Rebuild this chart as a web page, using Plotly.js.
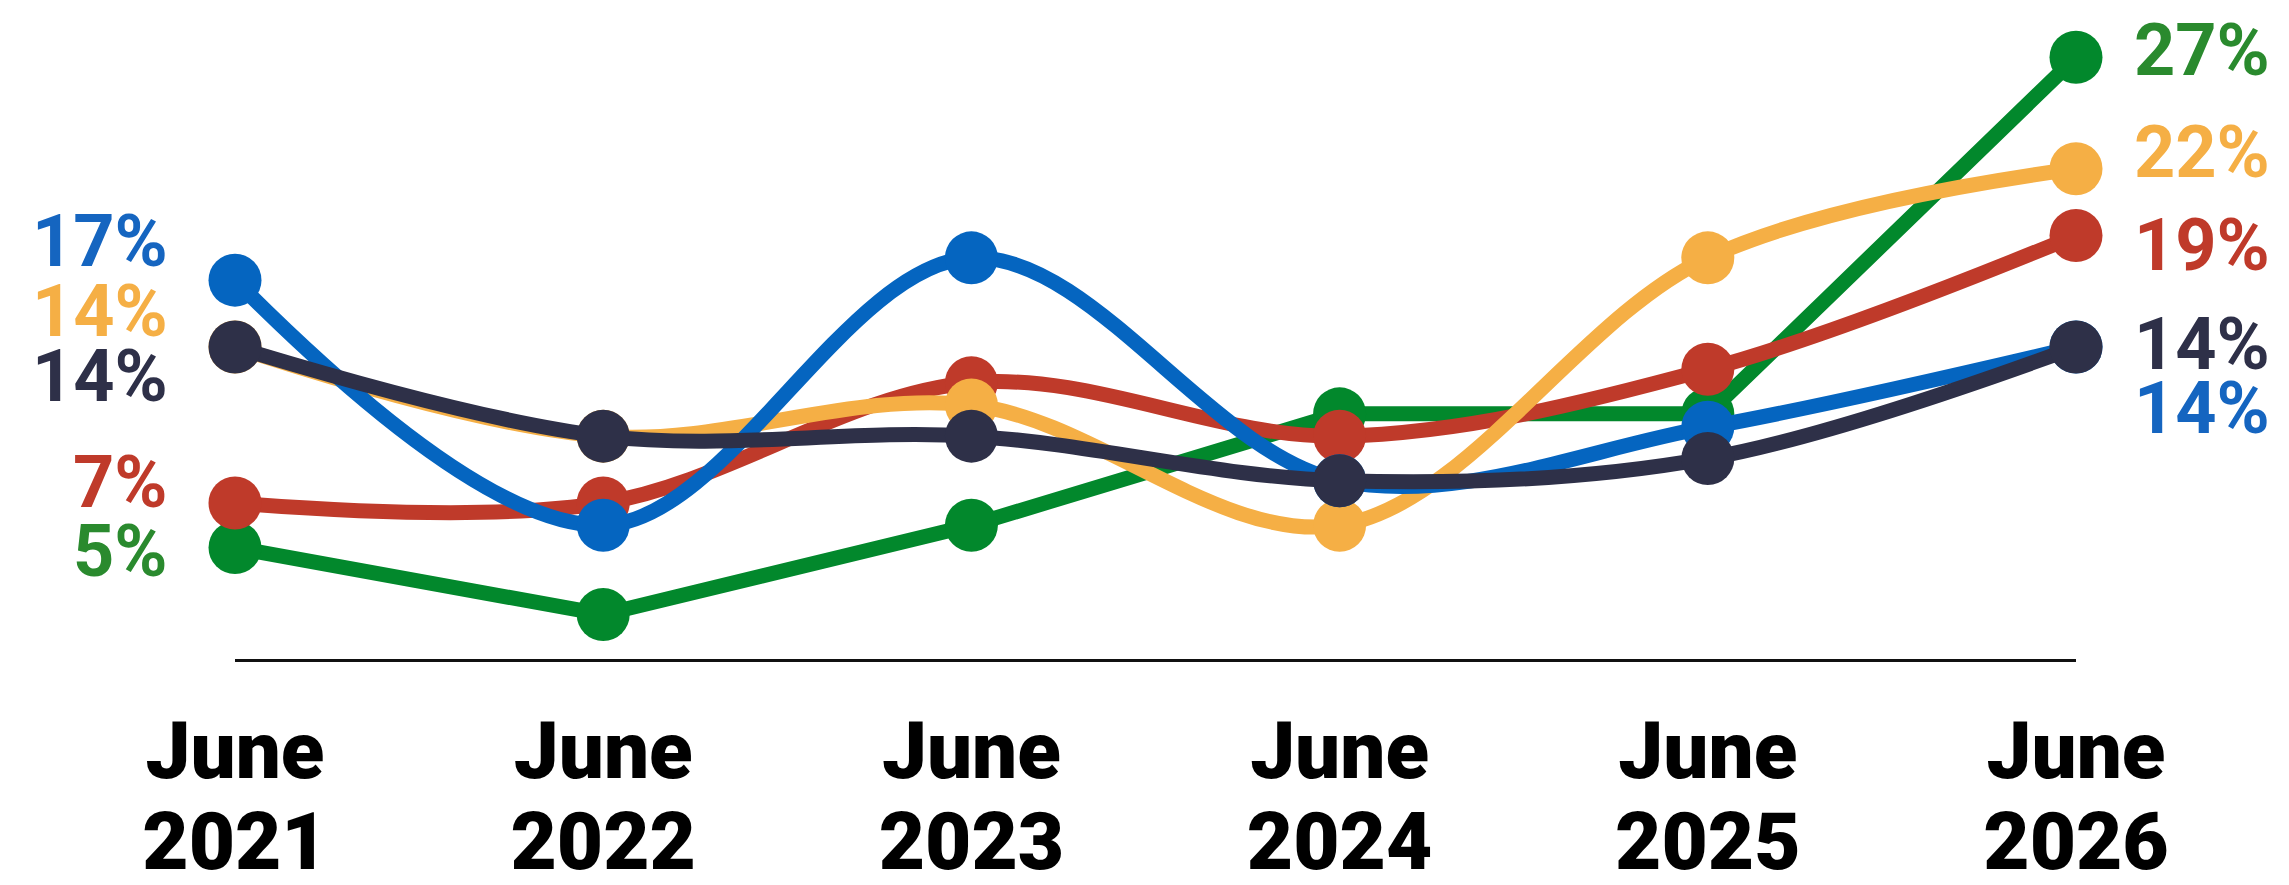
<!DOCTYPE html>
<html>
<head>
<meta charset="utf-8">
<script src="https://cdn.plot.ly/plotly-3.0.1.min.js"></script>
<style>
  html, body { margin: 0; padding: 0; background: #ffffff; }
  #chart { width: 2289px; height: 885px; }
</style>
</head>
<body>
<div id="chart"></div>
<script>
// ---- Data ----
const months = ["June", "June", "June", "June", "June", "June"];
const years = ["2021", "2022", "2023", "2024", "2025", "2026"];
const greenValues  = [5, 2, 6, 11, 11, 27];
const redValues    = [7, 7, 12.4, 10, 13, 19];
const yellowValues = [14, 10, 11.4, 6, 18, 22];
const blueValues   = [17, 6, 18, 8, 10.4, 14];
const darkValues   = [14, 10, 10, 8, 9, 14];

// ---- Styles ----
const FONT = "Roboto, 'Open Sans', sans-serif";
const seriesStyles = [
  { values: greenValues,  line: "#02882C", text: "#2A8A2E", shape: "linear", leftShift: -4,  rightShift: 7 },
  { values: redValues,    line: "#BF3A2A", text: "#BF3A2A", shape: "spline", leftShift: 21,  rightShift: -10 },
  { values: yellowValues, line: "#F5AF45", text: "#F5AF45", shape: "spline", leftShift: 36,  rightShift: 16 },
  { values: blueValues,   line: "#0565C0", text: "#1565C0", shape: "spline", leftShift: 39,  rightShift: -61 },
  { values: darkValues,   line: "#2E3048", text: "#2E3048", shape: "spline", leftShift: -29, rightShift: 3 }
];

const cats = years.map((y, i) => i);
const tickText = years.map((y, i) =>
  "<span style='font-size:80px'>" + months[i] + "</span><br><span style='font-size:80px'>" + y + "</span>");

const traces = seriesStyles.map(s => ({
  type: "scatter",
  mode: "lines+markers",
  x: cats,
  y: s.values,
  line: { color: s.line, width: 15, shape: s.shape, smoothing: 1 },
  marker: { color: s.line, size: 53 },
  cliponaxis: false,
  hoverinfo: "skip"
}));

const annotations = [];
seriesStyles.forEach(s => {
  const first = s.values[0];
  const last = s.values[s.values.length - 1];
  annotations.push({
    x: 0, y: first, xref: "x", yref: "y",
    text: first + "%", showarrow: false,
    xanchor: "right", yanchor: "middle",
    xshift: -65, yshift: s.leftShift,
    font: { family: FONT, size: 72, color: s.text, weight: 700 }
  });
  annotations.push({
    x: cats.length - 1, y: last, xref: "x", yref: "y",
    text: last + "%", showarrow: false,
    xanchor: "left", yanchor: "middle",
    xshift: 56, yshift: s.rightShift,
    font: { family: FONT, size: 72, color: s.text, weight: 700 }
  });
});

const layout = {
  width: 2289, height: 885,
  margin: { l: 235, r: 213, t: 35, b: 226 },
  paper_bgcolor: "#ffffff",
  plot_bgcolor: "#ffffff",
  showlegend: false,
  xaxis: {
    range: [0, 5],
    tickmode: "array",
    tickvals: cats,
    ticktext: tickText,
    showgrid: false, zeroline: false,
    showline: true, linecolor: "#111111", linewidth: 2.5,
    ticks: "", ticklabelstandoff: 32,
    tickfont: { family: FONT, size: 70, color: "#000000", weight: 900 },
    fixedrange: true
  },
  yaxis: {
    range: [0, 28],
    showgrid: false, zeroline: false, showline: false,
    showticklabels: false, ticks: "",
    fixedrange: true
  },
  annotations: annotations
};

Plotly.newPlot("chart", traces, layout, { displayModeBar: false, staticPlot: true });
</script>
</body>
</html>
